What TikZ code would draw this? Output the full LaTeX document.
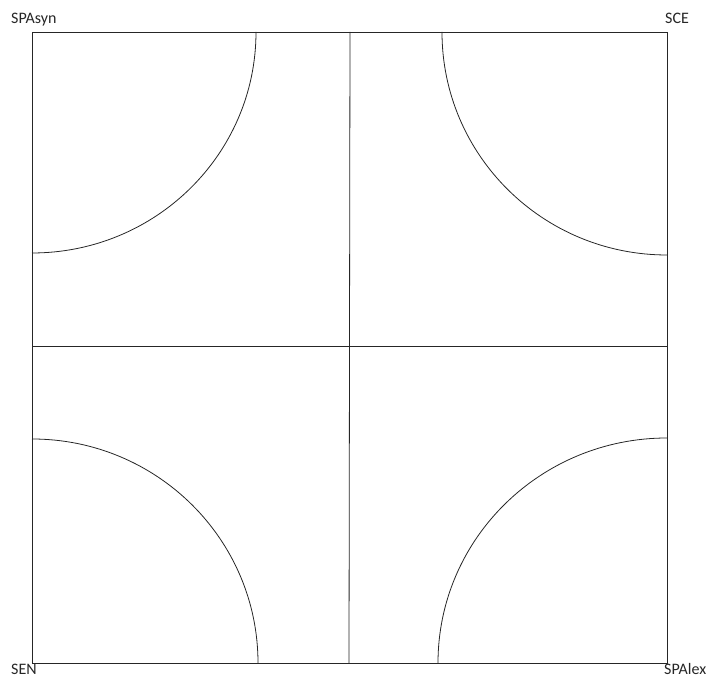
\documentclass[tikz,border=0pt]{standalone}
\usepackage{fontspec}
\setmainfont{Carlito}
\begin{document}
\begin{tikzpicture}[x=1pt,y=1pt,
  ln/.style={draw=black!85,line width=0.8pt},
  lbl/.style={anchor=base west,inner sep=0pt,font=\fontsize{16}{18}\selectfont,text=black!85}]
\useasboundingbox (0,0) rectangle (716,679);
% outer square and cross
\draw[ln] (32,16) rectangle (667,647);
\draw[ln] (350,647) -- (349,16);
\draw[ln] (32,333) -- (667,333);
% arcs
\draw[ln] (256,647) arc[start angle=0,end angle=-90,x radius=224,y radius=221];
\draw[ln] (442,647) arc[start angle=180,end angle=270,x radius=225,y radius=223];
\draw[ln] (32,240) arc[start angle=90,end angle=0,x radius=226,y radius=224];
\draw[ln] (438,16) arc[start angle=180,end angle=90,x radius=229,y radius=225];
% labels
\node[lbl] (spasyn) at (11,655) {SPAsyn};
\node[lbl] (sce) at (665,655) {SCE};
\node[lbl] (sen) at (11,4) {SEN};
\node[lbl] (spalex) at (664,4) {SPAlex};
\end{tikzpicture}
\end{document}
